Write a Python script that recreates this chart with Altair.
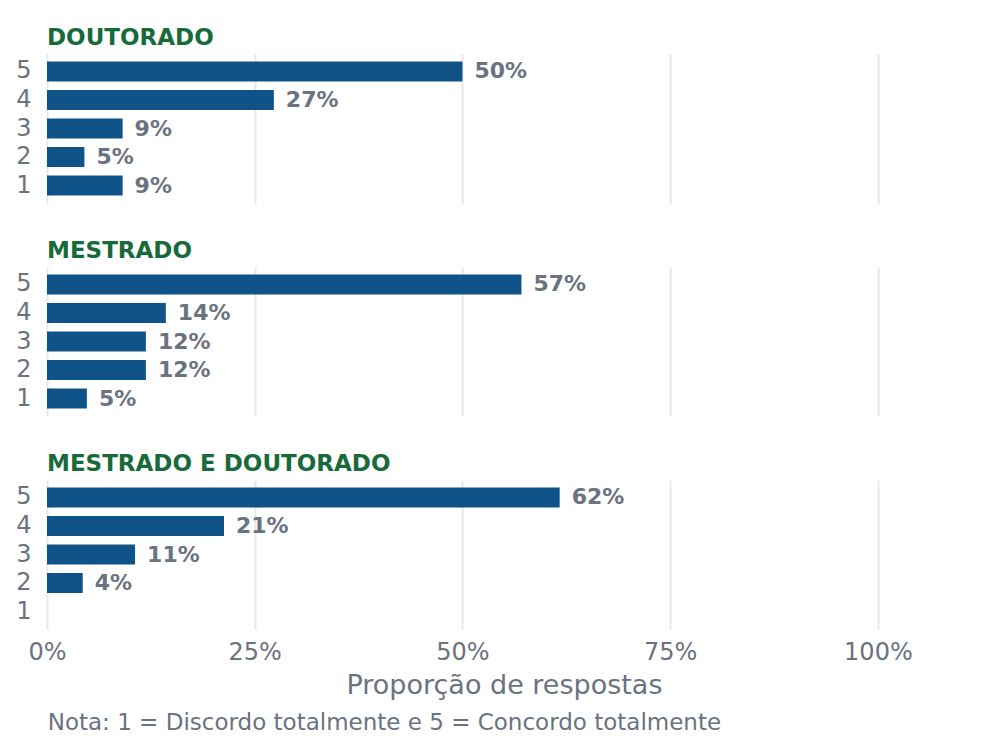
import altair as alt
import pandas as pd

levels = ["5", "4", "3", "2", "1"]
groups = ["DOUTORADO", "MESTRADO", "MESTRADO E DOUTORADO"]
doutorado = [0.500, 0.273, 0.091, 0.045, 0.091]
doutorado_lbl = ["50%", "27%", "9%", "5%", "9%"]
mestrado = [0.571, 0.143, 0.119, 0.119, 0.048]
mestrado_lbl = ["57%", "14%", "12%", "12%", "5%"]
ambos = [0.617, 0.213, 0.106, 0.043, 0.0]
ambos_lbl = ["62%", "21%", "11%", "4%", ""]
x_ticks = [0, 0.25, 0.5, 0.75, 1.0]
x_title = "Proporção de respostas"
caption = "Nota: 1 = Discordo totalmente e 5 = Concordo totalmente"

FONT = "DejaVu Sans"
BAR = "#0f5388"
GREEN = "#176a3a"
GRAY = "#6b7280"
GRID = "#e5e7eb"


def panel(name, vals, lbls, last):
    df = pd.DataFrame({"nivel": levels, "valor": vals, "rotulo": lbls})
    x_axis = alt.Axis(
        values=x_ticks, format="%", grid=True, gridColor=GRID, gridWidth=2,
        domain=False, ticks=False, labels=last, labelFontSize=24, labelFlush=False,
        labelColor=GRAY, labelPadding=11, labelFont=FONT,
        title=x_title if last else None, titleFontSize=27,
        titleFontWeight="normal", titleColor=GRAY, titlePadding=8, titleFont=FONT,
    )
    y_enc = alt.Y(
        "nivel:N",
        scale=alt.Scale(domain=levels, paddingInner=0.3, paddingOuter=0.26),
        axis=alt.Axis(title=None, domain=False, ticks=False, labelFontSize=24,
                      labelColor=GRAY, labelPadding=16, grid=False, labelFont=FONT),
    )
    x_scale = alt.Scale(domain=[0, 1.1], nice=False)
    bars = alt.Chart(df).mark_bar(color=BAR).encode(
        x=alt.X("valor:Q", scale=x_scale, axis=x_axis),
        y=y_enc,
    )
    text = alt.Chart(df).mark_text(
        align="left", baseline="middle", dx=12, fontSize=22,
        fontWeight="bold", color=GRAY, font=FONT,
    ).encode(
        x=alt.X("valor:Q", scale=x_scale),
        y=alt.Y("nivel:N", scale=alt.Scale(domain=levels)),
        text="rotulo:N",
    )
    return alt.layer(bars, text).properties(
        width=914, height=149,
        title=alt.TitleParams(name, anchor="start", frame="group", fontSize=23,
                              fontWeight="bold", color=GREEN, offset=4, font=FONT),
    )


chart = alt.vconcat(
    panel(groups[0], doutorado, doutorado_lbl, False),
    panel(groups[1], mestrado, mestrado_lbl, False),
    panel(groups[2], ambos, ambos_lbl, True),
    spacing=37,
).properties(
    title=alt.TitleParams(caption, orient="bottom", anchor="start", fontSize=23,
                          fontWeight="normal", color=GRAY, font=FONT, offset=14, dx=32),
    padding={"left": 7, "top": 19, "right": 5, "bottom": 5},
).configure(font=FONT).configure_view(strokeOpacity=0, strokeWidth=0)

chart.save("out.html", embed_options={"renderer": "svg", "actions": False})
